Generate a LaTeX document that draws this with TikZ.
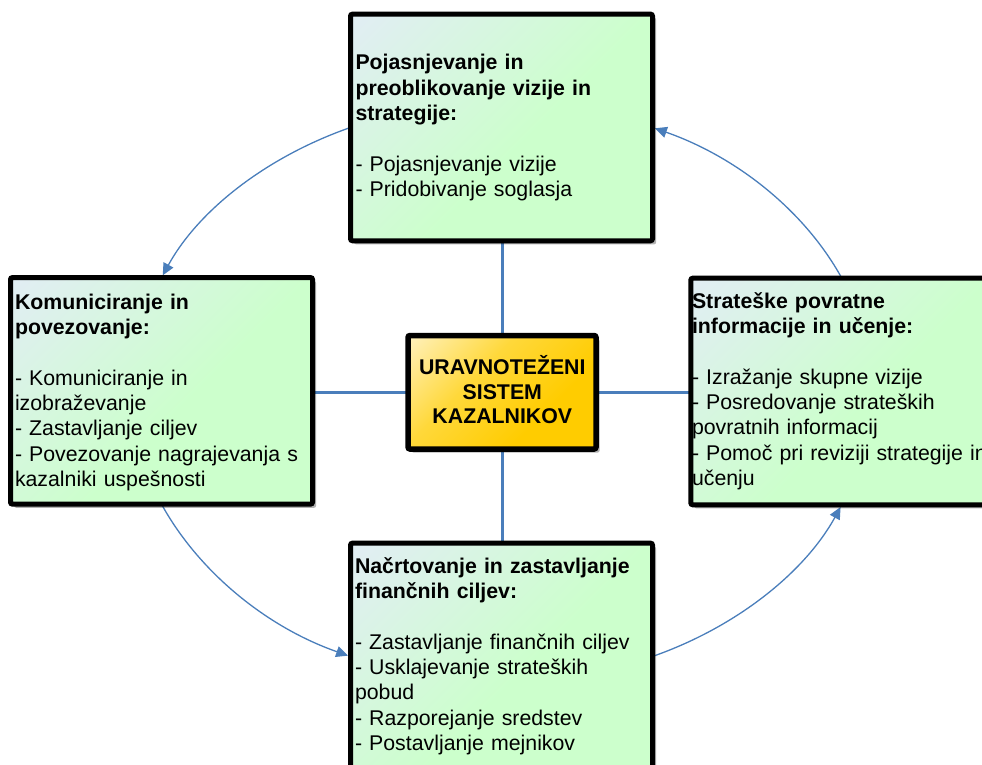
\documentclass[tikz,border=0pt]{standalone}
\usepackage{fontspec}
\setmainfont{Liberation Sans}
\usetikzlibrary{arrows.meta,shadows,backgrounds}

\definecolor{linkblue}{HTML}{4A7EBB}
\definecolor{panelgreen}{HTML}{CCFFCC}
\definecolor{panelpale}{HTML}{E3ECF7}
\definecolor{coregold}{HTML}{FFCC00}
\definecolor{coremid}{HTML}{FFD83A}
\definecolor{corepale}{HTML}{FFF4CC}

% diagonal fills: pale corner at the top left, full colour towards the bottom right
\pgfdeclareverticalshading{panelfill}{100bp}{color(0bp)=(panelgreen); color(45bp)=(panelgreen); color(88bp)=(panelpale); color(100bp)=(panelpale)}
\pgfdeclareverticalshading{corefill}{100bp}{color(0bp)=(coregold); color(35bp)=(coregold); color(60bp)=(coremid); color(88bp)=(corepale); color(100bp)=(corepale)}

\tikzset{
  boxshadow/.style={drop shadow={shadow xshift=3.6pt, shadow yshift=-3.6pt, opacity=0.3, fill=black}},
  panel/.style={draw=black, line width=5pt, rounded corners=2pt, shade, shading=panelfill, shading angle=45,
    minimum width=302pt, minimum height=226.6pt, inner sep=0pt, outer sep=0pt, boxshadow},
  corebox/.style={draw=black, line width=5.5pt, rounded corners=2pt, shade, shading=corefill, shading angle=45,
    minimum width=188pt, minimum height=113.5pt, inner sep=0pt, outer sep=0pt, boxshadow},
  paneltext/.style={inner sep=0pt, outer sep=0pt, text width=330pt, align=left,
    font=\fontsize{21.3}{25.3}\selectfont},
  coretext/.style={inner sep=0pt, outer sep=0pt, text width=190pt, align=center,
    font=\fontsize{21.3}{24.5}\selectfont\bfseries},
  spoke/.style={draw=linkblue, line width=3pt},
  loopflow/.style={draw=linkblue, line width=1.3pt, shorten >=2.5pt,
    -{Triangle[length=12pt, width=11pt]}, fill=none},
}

\begin{document}
\begin{tikzpicture}[x=1pt, y=1pt]
  \useasboundingbox (0,0) rectangle (982,-765);
  \clip (0,0) rectangle (982,-765);

  % the four perspective panels and the core
  \node[panel] (top)    at (501.5,-127.45) {};
  \node[panel] (left)   at (161.5,-390.85) {};
  \node[panel] (right)  at (841.8,-391.5)  {};
  \node[panel] (bottom) at (501.5,-656.45) {};
  \node[corebox] (core) at (502,-392.25) {};

  % panel texts
  \node[paneltext, anchor=base west] (topText) at ([xshift=5pt, yshift=-55.8pt]top.north west)
    {{\bfseries Pojasnjevanje in\\ preoblikovanje vizije in\\ strategije:}\\[25.3pt]
     - Pojasnjevanje vizije\\ - Pridobivanje soglasja};
  \node[paneltext, anchor=base west] (leftText) at ([xshift=4.5pt, yshift=-31.8pt]left.north west)
    {{\bfseries Komuniciranje in\\ povezovanje:}\\[25.3pt]
     - Komuniciranje in\\ izobraževanje\\ - Zastavljanje ciljev\\
     - Povezovanje nagrajevanja s\\ kazalniki uspešnosti};
  \node[paneltext, anchor=base west] (rightText) at ([xshift=1.2pt, yshift=-30.2pt]right.north west)
    {{\bfseries Strateške povratne\\ informacije in učenje:}\\[25.3pt]
     - Izražanje skupne vizije\\ - Posredovanje strateških\\ povratnih informacij\\
     - Pomoč pri reviziji strategije in\\ učenju};
  \node[paneltext, anchor=base west] (bottomText) at ([xshift=4.5pt, yshift=-30.1pt]bottom.north west)
    {{\bfseries Načrtovanje in zastavljanje\\ finančnih ciljev:}\\[25.3pt]
     - Zastavljanje finančnih ciljev\\ - Usklajevanje strateških\\ pobud\\
     - Razporejanje sredstev\\ - Postavljanje mejnikov};
  \node[coretext, anchor=base] (coreText) at ([xshift=0.3pt, yshift=17.75pt]core.center)
    {URAVNOTEŽENI\\ SISTEM\\ KAZALNIKOV};

  \begin{scope}[on background layer]
    % spokes from the core to each panel
    \draw[spoke] (core.north |- top.south) -- (core.north);
    \draw[spoke] (core.south) -- (core.south |- bottom.north);
    \draw[spoke] (left.east |- core.west) -- (core.west);
    \draw[spoke] (core.east) -- (core.east -| right.west);
    % feedback loop around the core (elliptical arcs)
    \draw[loopflow] (top.west) .. controls +(199.3:89.9) and +(61.2:76.3) .. (left.north);
    \draw[loopflow] (left.south) .. controls +(-61.2:76.3) and +(160.7:89.9) .. (bottom.west);
    \draw[loopflow] (bottom.east) .. controls +(19.3:89.9) and +(241.2:76.3) .. (right.south);
    \draw[loopflow] (right.north) .. controls +(118.8:76.3) and +(-19.3:89.9) .. (top.east);
  \end{scope}
\end{tikzpicture}
\end{document}
